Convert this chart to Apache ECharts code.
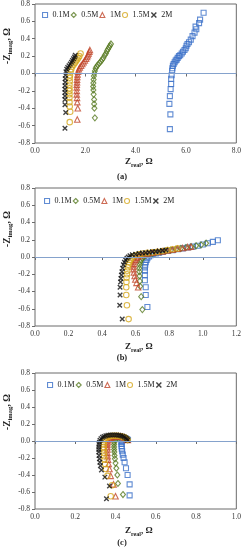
<!DOCTYPE html>
<html>
<head>
<meta charset="utf-8">
<script src="https://cdn.jsdelivr.net/npm/echarts@6/dist/echarts.min.js"></script>
<style>html,body{margin:0;padding:0;background:#fff}#c{width:244px;height:550px}</style>
</head>
<body>
<div id="c"></div>
<script>
// ---- data ----
const seriesNames = ['0.1M', '0.5M', '1M', '1.5M', '2M'];
const yTicks = [-0.8, -0.6, -0.4, -0.2, 0.0, 0.2, 0.4, 0.6, 0.8];
const xTicksA = [0.0, 2.0, 4.0, 6.0, 8.0];
const xTicksB = [0.0, 0.2, 0.4, 0.6, 0.8, 1.0, 1.2];
const xTicksC = [0.0, 0.2, 0.4, 0.6, 0.8, 1.0];
const captions = ['(a)', '(b)', '(c)'];

// (a)
const a01 = [[5.36,-0.64],[5.38,-0.47],[5.34,-0.35],[5.36,-0.26],[5.39,-0.18],[5.41,-0.12],[5.41,-0.06],[5.43,-0.02],[5.45,0.03],[5.46,0.06],[5.48,0.09],[5.51,0.11],[5.55,0.13],[5.59,0.15],[5.63,0.16],[5.67,0.18],[5.72,0.20],[5.77,0.21],[5.83,0.23],[5.88,0.25],[5.94,0.27],[5.99,0.29],[6.02,0.32],[6.06,0.34],[6.12,0.36],[6.19,0.39],[6.26,0.43],[6.34,0.47],[6.41,0.51],[6.38,0.54],[6.52,0.58],[6.56,0.62],[6.70,0.70]];
const a05 = [[2.38,-0.51],[2.36,-0.40],[2.35,-0.35],[2.35,-0.30],[2.33,-0.24],[2.32,-0.19],[2.31,-0.15],[2.32,-0.11],[2.33,-0.07],[2.34,-0.03],[2.36,0.00],[2.38,0.03],[2.41,0.06],[2.45,0.08],[2.50,0.10],[2.56,0.12],[2.62,0.14],[2.67,0.16],[2.72,0.18],[2.77,0.21],[2.82,0.23],[2.86,0.26],[2.90,0.28],[2.94,0.30],[2.98,0.32],[3.02,0.34]];
const a1 = [[1.68,-0.53],[1.70,-0.40],[1.68,-0.33],[1.67,-0.28],[1.66,-0.24],[1.66,-0.20],[1.66,-0.16],[1.66,-0.13],[1.67,-0.10],[1.67,-0.07],[1.68,-0.04],[1.69,-0.01],[1.71,0.02],[1.74,0.05],[1.78,0.07],[1.83,0.09],[1.88,0.11],[1.93,0.13],[1.98,0.15],[2.03,0.17],[2.07,0.19],[2.10,0.21],[2.13,0.23],[2.16,0.25],[2.18,0.27]];
const a15 = [[1.38,-0.56],[1.40,-0.44],[1.38,-0.38],[1.37,-0.33],[1.37,-0.28],[1.37,-0.24],[1.37,-0.20],[1.37,-0.17],[1.37,-0.13],[1.38,-0.09],[1.38,-0.05],[1.39,-0.02],[1.41,0.02],[1.44,0.05],[1.48,0.08],[1.53,0.10],[1.58,0.12],[1.63,0.14],[1.68,0.16],[1.72,0.18],[1.76,0.20],[1.81,0.23]];
const a2 = [[1.19,-0.63],[1.22,-0.45],[1.19,-0.36],[1.19,-0.30],[1.19,-0.26],[1.19,-0.22],[1.19,-0.18],[1.19,-0.14],[1.20,-0.10],[1.20,-0.06],[1.21,-0.02],[1.23,0.02],[1.26,0.05],[1.30,0.07],[1.35,0.09],[1.40,0.11],[1.45,0.13],[1.49,0.15],[1.53,0.17],[1.57,0.19],[1.60,0.21]];

// (b)
const b01 = [[0.67,-0.58],[0.66,-0.44],[0.66,-0.35],[0.655,-0.27],[0.655,-0.21],[0.655,-0.16],[0.655,-0.12],[0.657,-0.09],[0.66,-0.06],[0.665,-0.035],[0.67,-0.015],[0.68,0.005],[0.69,0.02],[0.70,0.03],[0.72,0.04],[0.74,0.05],[0.76,0.06],[0.79,0.07],[0.82,0.08],[0.85,0.09],[0.88,0.10],[0.91,0.11],[0.94,0.12],[0.97,0.13],[1.00,0.145],[1.03,0.16],[1.06,0.175],[1.09,0.195]];
const b05 = [[0.64,-0.61],[0.633,-0.46],[0.627,-0.34],[0.625,-0.28],[0.623,-0.22],[0.622,-0.17],[0.622,-0.13],[0.624,-0.09],[0.627,-0.06],[0.632,-0.035],[0.64,-0.015],[0.65,0.005],[0.66,0.02],[0.68,0.03],[0.70,0.04],[0.72,0.05],[0.75,0.06],[0.78,0.07],[0.81,0.08],[0.84,0.09],[0.87,0.10],[0.90,0.11],[0.93,0.12],[0.96,0.13],[0.99,0.14],[1.02,0.16]];
const b1 = [[0.615,-0.35],[0.605,-0.30],[0.598,-0.26],[0.594,-0.22],[0.59,-0.18],[0.588,-0.14],[0.588,-0.11],[0.59,-0.08],[0.593,-0.05],[0.598,-0.03],[0.605,-0.01],[0.615,0.005],[0.63,0.02],[0.65,0.03],[0.67,0.04],[0.70,0.05],[0.73,0.06],[0.76,0.065],[0.79,0.075],[0.82,0.085],[0.85,0.095],[0.88,0.105],[0.91,0.115],[0.93,0.12]];
const b15 = [[0.558,-0.72],[0.548,-0.56],[0.544,-0.44],[0.544,-0.35],[0.545,-0.29],[0.546,-0.24],[0.548,-0.20],[0.55,-0.16],[0.553,-0.12],[0.557,-0.09],[0.562,-0.06],[0.568,-0.035],[0.575,-0.015],[0.585,0.005],[0.60,0.02],[0.62,0.03],[0.64,0.04],[0.67,0.05],[0.70,0.055],[0.73,0.06],[0.76,0.07],[0.79,0.08],[0.82,0.09],[0.85,0.10]];
const b2 = [[0.52,-0.72],[0.505,-0.56],[0.507,-0.44],[0.507,-0.35],[0.51,-0.29],[0.512,-0.25],[0.515,-0.21],[0.518,-0.17],[0.522,-0.13],[0.527,-0.09],[0.533,-0.06],[0.54,-0.035],[0.548,-0.015],[0.556,0.0],[0.566,0.015],[0.58,0.025],[0.60,0.033],[0.62,0.04],[0.64,0.045],[0.66,0.05],[0.68,0.055],[0.70,0.06],[0.72,0.065],[0.74,0.07],[0.76,0.075],[0.78,0.08]];

// (c)
const c01 = [[0.47,-0.64],[0.47,-0.51],[0.46,-0.40],[0.452,-0.32],[0.445,-0.25],[0.44,-0.20],[0.436,-0.16],[0.433,-0.12],[0.431,-0.09],[0.43,-0.06],[0.43,-0.035],[0.43,-0.01],[0.432,0.01],[0.437,0.025],[0.444,0.032],[0.452,0.03],[0.458,0.022],[0.462,0.012]];
const c05 = [[0.437,-0.63],[0.412,-0.50],[0.409,-0.40],[0.404,-0.32],[0.40,-0.26],[0.397,-0.21],[0.395,-0.17],[0.394,-0.13],[0.393,-0.10],[0.393,-0.07],[0.393,-0.04],[0.394,-0.015],[0.397,0.01],[0.402,0.025],[0.41,0.037],[0.418,0.044],[0.427,0.047],[0.436,0.046],[0.444,0.041],[0.451,0.033],[0.457,0.023],[0.461,0.012]];
const c1 = [[0.40,-0.65],[0.39,-0.51],[0.376,-0.41],[0.37,-0.33],[0.366,-0.27],[0.363,-0.22],[0.361,-0.18],[0.36,-0.14],[0.36,-0.10],[0.36,-0.07],[0.36,-0.04],[0.361,-0.015],[0.364,0.01],[0.369,0.027],[0.376,0.04],[0.385,0.049],[0.395,0.054],[0.405,0.056],[0.415,0.056],[0.425,0.054],[0.435,0.049],[0.444,0.042],[0.451,0.033],[0.457,0.022],[0.461,0.011]];
const c15 = [[0.376,-0.65],[0.383,-0.52],[0.36,-0.41],[0.352,-0.33],[0.348,-0.27],[0.345,-0.22],[0.343,-0.18],[0.342,-0.14],[0.341,-0.10],[0.341,-0.07],[0.341,-0.04],[0.342,-0.015],[0.345,0.01],[0.35,0.028],[0.357,0.042],[0.366,0.052],[0.376,0.058],[0.387,0.061],[0.398,0.062],[0.409,0.061],[0.42,0.058],[0.43,0.053],[0.44,0.046],[0.448,0.037],[0.455,0.026],[0.46,0.014]];
const c2 = [[0.355,-0.68],[0.37,-0.53],[0.347,-0.425],[0.33,-0.34],[0.325,-0.29],[0.322,-0.25],[0.32,-0.21],[0.318,-0.17],[0.317,-0.13],[0.317,-0.10],[0.317,-0.07],[0.318,-0.04],[0.32,-0.015],[0.323,0.01],[0.328,0.028],[0.335,0.043],[0.343,0.054],[0.352,0.062],[0.362,0.067],[0.373,0.07],[0.384,0.071],[0.395,0.071],[0.406,0.07],[0.417,0.067],[0.427,0.062],[0.436,0.055],[0.444,0.046],[0.451,0.035],[0.456,0.023],[0.46,0.01]];

// ---- styles ----
const colors = ['#3A6FC8', '#587A22', '#C0462A', '#D4A61C', '#111111'];
const symbols = ['rect', 'diamond', 'triangle', 'circle', 'path://M0,0L8,8M8,0L0,8'];
const sizes = [5, [5, 6], 5.5, 5.5, 4.5];
const serif = 'Liberation Serif';

const panels = [
  {data: [a01, a05, a1, a15, a2], ticks: xTicksA, top: 4, height: 139, legendTop: 11, legendLeft: 42, capY: 177, nameY: 162, yNameBottom: 64},
  {data: [b01, b05, b1, b15, b2], ticks: xTicksB, top: 188, height: 138, legendTop: 197, legendLeft: 44, capY: 358, nameY: 347, yNameBottom: 247},
  {data: [c01, c05, c1, c15, c2], ticks: xTicksC, top: 373, height: 136, legendTop: 381, legendLeft: 47, capY: 543, nameY: 531, yNameBottom: 430}
];

const richName = {
  m: {fontFamily: serif, fontSize: 9, fontWeight: 'bold', fill: '#222', lineHeight: 12},
  s: {fontFamily: serif, fontSize: 6, fontWeight: 'bold', fill: '#222', verticalAlign: 'bottom', lineHeight: 12}
};

const legendData = seriesNames.map((n, i) => ({
  name: n,
  itemStyle: {color: 'rgba(255,255,255,0)', borderColor: colors[i], borderWidth: i === 4 ? 1.4 : 1.1}
}));

const grid = [], xAxis = [], yAxis = [], series = [], legend = [], graphic = [];
const axisTextColor = '#333';
const bigFont = 'bold 9.5px "Liberation Serif"';
const subFont = 'bold 6.5px "Liberation Serif"';
panels.forEach((p, gi) => {
  grid.push({left: 35, right: 7, top: p.top, height: p.height, show: true, borderColor: '#6b6b6b', borderWidth: 1, backgroundColor: 'transparent'});
  const xt = p.ticks;
  xAxis.push({
    gridIndex: gi, type: 'value', min: xt[0], max: xt[xt.length - 1], interval: xt[1] - xt[0],
    axisLine: {show: false}, axisTick: {show: true, length: 3, lineStyle: {color: '#6b6b6b'}},
    splitLine: {show: false},
    axisLabel: {fontFamily: serif, fontSize: 7.5, color: axisTextColor, margin: 4, formatter: v => v.toFixed(1)}
  });
  yAxis.push({
    gridIndex: gi, type: 'value', min: yTicks[0], max: yTicks[yTicks.length - 1], interval: 0.2,
    axisLine: {show: false}, axisTick: {show: true, length: 3, lineStyle: {color: '#6b6b6b'}},
    splitLine: {show: false},
    axisLabel: {fontFamily: serif, fontSize: 7.5, color: axisTextColor, margin: 5, formatter: v => v.toFixed(1)}
  });
  p.data.forEach((d, si) => {
    const s = {
      type: 'scatter', name: seriesNames[si], xAxisIndex: gi, yAxisIndex: gi, data: d,
      symbol: symbols[si], symbolSize: sizes[si],
      itemStyle: {color: 'rgba(255,255,255,0)', borderColor: colors[si], borderWidth: si === 4 ? 1.4 : 1.1},
      emphasis: {disabled: true}, silent: true, animation: false
    };
    if (si === 0) {
      s.markLine = {silent: true, symbol: ['none', 'none'], label: {show: false}, animation: false,
        lineStyle: {color: '#85A2CC', width: 1.2, type: 'solid'}, data: [{yAxis: 0}]};
    }
    series.push(s);
  });
  legend.push({
    data: legendData, top: p.legendTop, left: p.legendLeft, orient: 'horizontal',
    itemWidth: 5, itemHeight: 5, itemGap: 1, padding: 0, selectedMode: false,
    textStyle: {fontFamily: serif, fontSize: 8, color: '#222'}
  });
  // x-axis name
  graphic.push({
    type: 'text', x: 125, y: p.nameY,
    style: {text: '{m|Z}{s|real}{m|, Ω}', align: 'left', verticalAlign: 'middle', rich: richName}
  });
  // y-axis name, rotated, built from three text runs (main, subscript, main)
  const yb = p.yNameBottom;
  graphic.push({type: 'text', x: 8, y: yb, rotation: Math.PI / 2,
    style: {text: '-Z', align: 'left', verticalAlign: 'middle', font: bigFont, fill: '#222'}});
  graphic.push({type: 'text', x: 10.5, y: yb - 9.5, rotation: Math.PI / 2,
    style: {text: 'imag', align: 'left', verticalAlign: 'middle', font: subFont, fill: '#222'}});
  graphic.push({type: 'text', x: 8, y: yb - 23.5, rotation: Math.PI / 2,
    style: {text: ', Ω', align: 'left', verticalAlign: 'middle', font: bigFont, fill: '#222'}});
  graphic.push({
    type: 'text', x: 122, y: p.capY,
    style: {text: captions[gi], align: 'center', verticalAlign: 'middle', font: 'bold 8.5px "Liberation Serif"', fill: '#222'}
  });
});

const chart = echarts.init(document.getElementById('c'), null, {renderer: 'canvas'});
chart.setOption({animation: false, backgroundColor: '#fff', grid, xAxis, yAxis, series, legend, graphic});
</script>
</body>
</html>
